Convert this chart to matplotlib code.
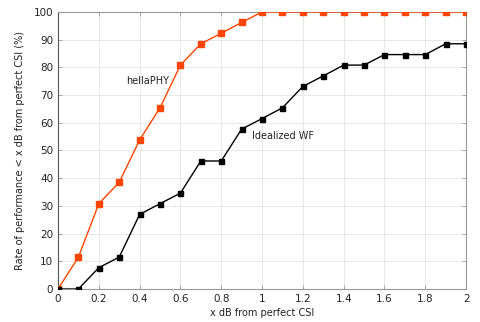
#Rate of performance within x dB of perfect CSI
import matplotlib
matplotlib.use("Agg")
import matplotlib.pyplot as plt

#Data
x_db = [0, 0.1, 0.2, 0.3, 0.4, 0.5, 0.6, 0.7, 0.8, 0.9, 1.0,
        1.1, 1.2, 1.3, 1.4, 1.5, 1.6, 1.7, 1.8, 1.9, 2.0]
hellaphy = [0, 11.5, 30.8, 38.5, 53.8, 65.4, 80.8, 88.5, 92.3, 96.2, 100,
            100, 100, 100, 100, 100, 100, 100, 100, 100, 100]
idealized_wf = [0, 0, 7.7, 11.5, 26.9, 30.8, 34.6, 46.2, 46.2, 57.7, 61.5,
                65.4, 73.1, 76.9, 80.8, 80.8, 84.6, 84.6, 84.6, 88.5, 88.5]

plt.rcParams['font.family'] = ['DejaVu Sans']
fig = plt.figure(figsize=(4.81, 3.22), dpi=100)
ax = fig.add_axes([0.1206, 0.1025, 0.8484, 0.8605])

#Lines
ax.plot(x_db, hellaphy, color="#ff4500", lw=1.0, marker="s", ms=5.0, zorder=3)
ax.plot(x_db, idealized_wf, color="black", lw=1.0, marker="s", ms=3.6, zorder=3)

#Inline labels
ax.text(0.333, 75.1, "hellaPHY", fontsize=7, color="#222222", va="center")
ax.text(0.95, 55.2, "Idealized WF", fontsize=7, color="#222222", va="center")

#Axes setup
ax.set_xlim(0, 2)
ax.set_ylim(0, 100)
ax.set_xticks([0, 0.2, 0.4, 0.6, 0.8, 1, 1.2, 1.4, 1.6, 1.8, 2])
ax.set_xticklabels(["0", "0.2", "0.4", "0.6", "0.8", "1", "1.2", "1.4", "1.6", "1.8", "2"])
ax.set_yticks(range(0, 101, 10))
ax.grid(True, color="#e4e4e4", lw=0.6)
ax.set_axisbelow(True)
ax.tick_params(direction="in", length=3, width=0.6, colors="#999999",
               labelcolor="#222222", labelsize=7.5, top=True, right=True)
for s in ax.spines.values():
    s.set_color("#999999")
    s.set_linewidth(0.8)
ax.spines["left"].set_color("#555555")

ax.set_xlabel("x dB from perfect CSI", fontsize=7, color="#222222", labelpad=3)
ax.set_ylabel("Rate of performance < x dB from perfect CSI (%)", fontsize=7, color="#222222", labelpad=6)

plt.savefig("out.png", dpi=100)
